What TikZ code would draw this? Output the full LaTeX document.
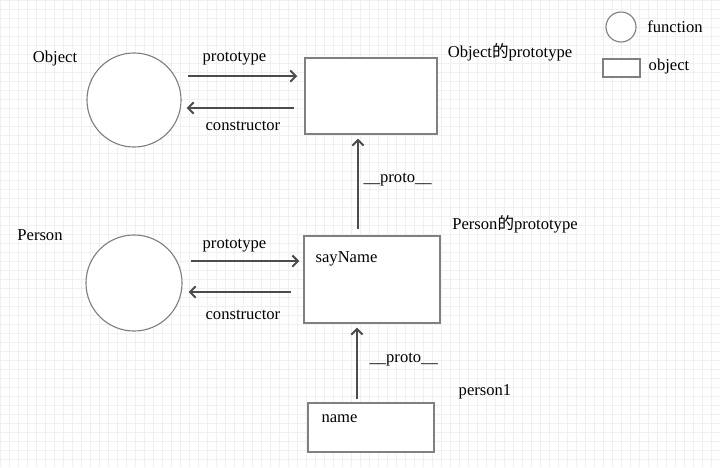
\documentclass[tikz,border=0pt]{standalone}
\usepackage{fontspec}
\setmainfont{Liberation Serif}
\newfontfamily\cjk{Noto Sans CJK SC}
\usetikzlibrary{arrows.meta,calc,positioning}

\begin{document}
\begin{tikzpicture}[
    x=0.025cm, y=-0.025cm,
    func/.style={draw=black!50, line width=0.8pt, circle, minimum size=2.35cm, inner sep=0pt, fill=white},
    obj/.style={draw=black!50, line width=1pt, rectangle, inner sep=0pt, fill=white},
    txt/.style={font=\fontsize{11.8}{13}\selectfont, inner sep=0pt},
    edge/.style={draw=black!70, line width=1pt, -{Straight Barb[length=4pt, width=8pt, line width=1.4pt]}},
    gridline/.style={draw=black!6, line width=0.5pt},
]

\useasboundingbox (0,0) rectangle (720,467);
\fill[white] (0,0) rectangle (720,467);

% Background grid
\foreach \gx in {0,9,...,720} \draw[gridline] (\gx,0) -- (\gx,467);
\foreach \gy in {0,9,...,467} \draw[gridline] (0,\gy) -- (720,\gy);

% Object and its prototype
\node[func] (objfn) at (134,100) {};
\node[txt] (objname) at (55,59) {Object};
\node[obj, minimum width=3.3cm, minimum height=1.9cm] (objproto) at (371,96) {};
\node[txt] (objprotoname) at (510,52) {Object{\cjk 的}prototype};

% Person and its prototype
\node[func, minimum size=2.4cm] (perfn) at (134,283) {};
\node[txt] (pername) at (40,235) {Person};
\node[obj, minimum width=3.4cm, minimum height=2.175cm] (perproto) at (372,279.5) {};
\node[txt] (perprotoname) at (515,224) {Person{\cjk 的}prototype};
\node[txt] (sayname) at (346.5,259) {sayName};

% Instance
\node[obj, minimum width=3.15cm, minimum height=1.225cm] (p1) at (371,427.5) {};
\node[txt] (p1name) at (485,392) {person1};
\node[txt] (p1field) at (339.5,419) {name};

% Links between Object and Object's prototype
\draw[edge, shorten <=4.3pt, shorten >=5pt] ([yshift=17pt]objfn.east) -- ([yshift=17pt]objfn.east -| objproto.west)
    node[txt, midway, above=7pt, xshift=-6pt] {prototype};
\draw[edge, shorten <=7pt, shorten >=3.6pt] ([yshift=-5.7pt]objfn.east -| objproto.west) -- ([yshift=-5.7pt]objfn.east)
    node[txt, midway, below=8.7pt] {constructor};

% Links between Person and Person's prototype
\draw[edge, shorten <=5.7pt, shorten >=2.8pt] ([yshift=15.6pt]perfn.east) -- ([yshift=15.6pt]perfn.east -| perproto.west)
    node[txt, midway, above=6pt, xshift=-6pt] {prototype};
\draw[edge, shorten <=8.5pt, shorten >=4.3pt] ([yshift=-6.4pt]perfn.east -| perproto.west) -- ([yshift=-6.4pt]perfn.east)
    node[txt, midway, below=12.3pt] {constructor};

% Prototype chain
\draw[edge, shorten <=4.3pt, shorten >=2.8pt] ([xshift=-10pt]perproto.north) -- ([xshift=-10pt]perproto.north |- objproto.south)
    node[txt, midway, right=3.5pt, yshift=3.5pt] {\_\_proto\_\_};
\draw[edge, shorten <=2pt, shorten >=2.8pt] ([xshift=-10pt]p1.north) -- ([xshift=-10pt]p1.north |- perproto.south)
    node[txt, midway, right=8.5pt, yshift=2.5pt] {\_\_proto\_\_};

% Legend
\node[func, minimum size=0.75cm] (legfn) at (621,27) {};
\node[txt] (legfnname) at (675,27) {function};
\node[obj, minimum width=0.925cm, minimum height=0.45cm] (legobj) at (621.5,68) {};
\node[txt] (legobjname) at (669,67) {object};

\end{tikzpicture}
\end{document}
